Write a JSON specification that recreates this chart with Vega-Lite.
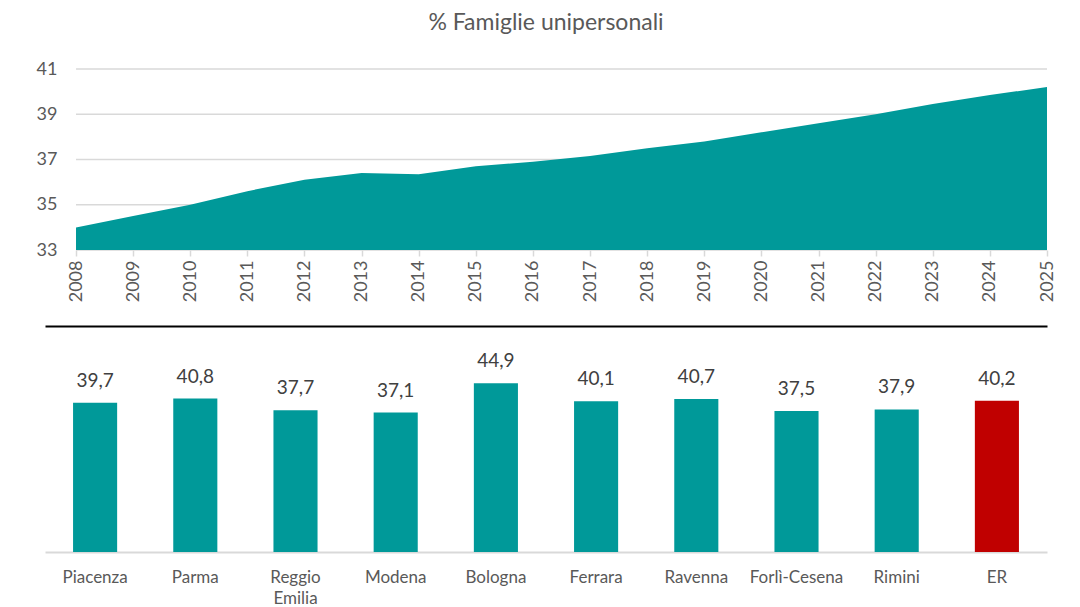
{
  "$schema": "https://vega.github.io/schema/vega-lite/v6.json",
  "padding": {"left": 36, "top": 12, "right": 5, "bottom": 0},
  "spacing": 24,
  "config": {
    "locale": {"number": {"decimal": ",", "thousands": ".", "grouping": [3], "currency": ["", " €"]}},
    "view": {"stroke": null},
    "font": "Lato"
  },
  "vconcat": [
    {
      "width": 1002,
      "height": 181,
      "title": {"text": "% Famiglie unipersonali", "fontSize": 23, "font": "Lato", "fontWeight": "normal", "color": "#595959", "offset": 25},
      "layer": [
        {
          "data": {"values": [{"g": 33}, {"g": 35}, {"g": 37}, {"g": 39}, {"g": 41}]},
          "mark": {"type": "rule", "color": "#D9D9D9", "strokeWidth": 1.5},
          "encoding": {
            "y": {"field": "g", "type": "quantitative"},
            "x": {"datum": 2008, "type": "quantitative"},
            "x2": {"datum": 2025}
          }
        },
        {
          "data": {"values": [
            {"anno": 2008, "valore": 34.0},
            {"anno": 2009, "valore": 34.5},
            {"anno": 2010, "valore": 35.0},
            {"anno": 2011, "valore": 35.6},
            {"anno": 2012, "valore": 36.1},
            {"anno": 2013, "valore": 36.4},
            {"anno": 2014, "valore": 36.35},
            {"anno": 2015, "valore": 36.7},
            {"anno": 2016, "valore": 36.9},
            {"anno": 2017, "valore": 37.15},
            {"anno": 2018, "valore": 37.5},
            {"anno": 2019, "valore": 37.8},
            {"anno": 2020, "valore": 38.2},
            {"anno": 2021, "valore": 38.6},
            {"anno": 2022, "valore": 39.0},
            {"anno": 2023, "valore": 39.45},
            {"anno": 2024, "valore": 39.85},
            {"anno": 2025, "valore": 40.2}
          ]},
          "mark": {"type": "area", "color": "#009999"},
          "encoding": {
            "x": {"field": "anno", "type": "quantitative"},
            "y": {"field": "valore", "type": "quantitative"},
            "y2": {"datum": 33}
          }
        }
      ],
      "encoding": {
        "x": {
          "type": "quantitative",
          "scale": {"domain": [2007.457, 2025], "nice": false, "zero": false},
          "axis": {"title": null, "values": [2008, 2009, 2010, 2011, 2012, 2013, 2014, 2015, 2016, 2017, 2018, 2019, 2020, 2021, 2022, 2023, 2024, 2025],
                   "format": "d", "labelAngle": -90, "labelFontSize": 18, "labelColor": "#595959", "labelPadding": 4,
                   "domain": false, "tickColor": "#D9D9D9", "tickSize": 6, "tickWidth": 1.5, "grid": false}
        },
        "y": {
          "type": "quantitative",
          "scale": {"domain": [33, 41], "zero": false, "nice": false},
          "axis": {"title": null, "values": [33, 35, 37, 39, 41], "grid": false,
                   "domain": false, "ticks": false, "labelPadding": -12, "labelFontSize": 18, "labelColor": "#595959"}
        }
      }
    },
    {
      "width": 1002,
      "height": 188,
      "data": {"values": [
        {"prov": "Piacenza", "valore": 39.7},
        {"prov": "Parma", "valore": 40.8},
        {"prov": "Reggio Emilia", "valore": 37.7},
        {"prov": "Modena", "valore": 37.1},
        {"prov": "Bologna", "valore": 44.9},
        {"prov": "Ferrara", "valore": 40.1},
        {"prov": "Ravenna", "valore": 40.7},
        {"prov": "Forlì-Cesena", "valore": 37.5},
        {"prov": "Rimini", "valore": 37.9},
        {"prov": "ER", "valore": 40.2}
      ]},
      "layer": [
        {
          "mark": {"type": "bar"},
          "encoding": {
            "x": {
              "field": "prov", "type": "nominal", "sort": null,
              "scale": {"paddingInner": 0.56, "paddingOuter": 0.28},
              "axis": {"title": null, "orient": "bottom", "labelAngle": 0, "labelFontSize": 17, "labelColor": "#595959",
                       "labelPadding": 17, "labelLineHeight": 21, "ticks": false, "domainColor": "#D9D9D9", "domainWidth": 2,
                       "labelExpr": "datum.label == 'Reggio Emilia' ? ['Reggio', 'Emilia'] : datum.label"}
            },
            "y": {"field": "valore", "type": "quantitative", "scale": {"domain": [0, 50], "nice": false}, "axis": null},
            "color": {"condition": {"test": "datum.prov === 'ER'", "value": "#C00000"}, "value": "#009999"}
          }
        },
        {
          "mark": {"type": "text", "baseline": "bottom", "dy": -12, "fontSize": 19, "color": "#404040", "font": "Lato"},
          "encoding": {
            "x": {
              "field": "prov", "type": "nominal", "sort": null,
              "axis": {"title": null, "orient": "top", "labels": false, "ticks": false, "grid": false,
                       "domainColor": "#000000", "domainWidth": 2, "offset": 38}
            },
            "y": {"field": "valore", "type": "quantitative"},
            "text": {"field": "valore", "type": "quantitative", "format": ".1f"}
          }
        }
      ],
      "resolve": {"axis": {"x": "independent"}}
    }
  ]
}
